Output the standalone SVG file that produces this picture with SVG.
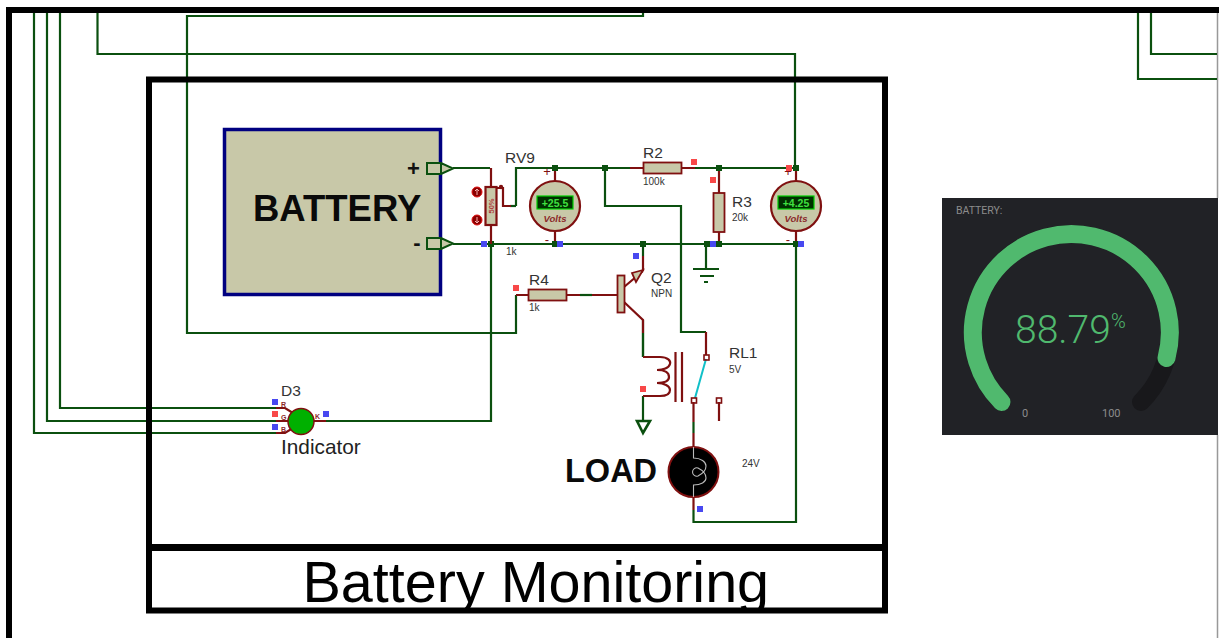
<svg xmlns="http://www.w3.org/2000/svg" width="1219" height="638" viewBox="0 0 1219 638">
<style>
text{font-family:"Liberation Sans",Arial,sans-serif}
.w{fill:none;stroke:#0b500f;stroke-width:2.2}
.r{fill:none;stroke:#7f1010;stroke-width:2.2}
.j{fill:#0b500f}
.b{fill:#4848f0}
.s{fill:#f84848}
.body{fill:#c8c8a8;stroke:#7f1010;stroke-width:2.2}
.l{fill:#333;font-size:15.5px}
.t{fill:#333;font-size:10px}
.disp{fill:#003000;stroke:#00d000;stroke-width:1.2}
.dt{fill:#40e040;font-size:10.5px;font-weight:bold;text-anchor:middle}
.vt{fill:#8b2a2a;font-size:9.500px;font-weight:bold;font-style:italic;text-anchor:middle}
.pm{fill:#7f1010;font-size:13px;text-anchor:middle}
.pin{fill:#8b2a2a;font-size:7px;font-weight:bold}
.term{fill:#c8c8a8;stroke:#0b500f;stroke-width:2}
.rt{fill:#c8c8a8;stroke:#7f1010;stroke-width:1.8}
.dash{fill:#8c8c8c;font-size:11px;font-family:Roboto,"Liberation Sans",sans-serif}
</style>
<defs><clipPath id="titleClip"><rect x="152" y="551" width="730" height="60"/></clipPath></defs>
<rect width="1219" height="638" fill="#fff"/>
<g id="frame">
<path d="M9 638V10H1219" fill="none" stroke="#000" stroke-width="6"/>
<path d="M1217.5 13V198M1217.5 435V638" fill="none" stroke="#999" stroke-width="1.5"/>
</g>
<g id="connectors">
<path class="w" d="M34 13V433H276M47 13V421H288M60 13V408H276"/>
<path class="w" d="M97.500 13V54H795V168"/>
<path class="w" d="M643 13V16H187V333H516V295"/>
<path class="w" d="M1138 13V79H1217M1151 13V54H1217"/>
<path class="w" d="M453 168H490M453 244H796M516 206V168H796"/>
<path class="w" d="M326 421H491V244"/>
<path class="w" d="M605 168V206H681V332H706"/>
<path class="w" d="M643 244V256M643 320V357M643 396V421M693.500 422V433M693.500 510V522H796V244"/>
<path class="w" d="M706 244V268"/>
<path class="w" d="M693 269H719M700 276H714M704 282H708" />
<path class="w" d="M643 433L637 421H650Z" style="stroke-width:2.6"/>
<path class="w" d="M510 206H516"/>
<rect class="j" x="552" y="165" width="6" height="6"/><rect class="j" x="602" y="165" width="6" height="6"/>
<rect class="j" x="716" y="165" width="6" height="6"/><rect class="j" x="793" y="165" width="6" height="6"/>
<rect class="j" x="488" y="241" width="6" height="6"/><rect class="j" x="552" y="241" width="6" height="6"/>
<rect class="j" x="640" y="241" width="6" height="6"/><rect class="j" x="704" y="241" width="6" height="6"/>
<rect class="j" x="716" y="241" width="6" height="6"/><rect class="j" x="793" y="241" width="6" height="6"/>
</g>
<g id="battery">
<rect x="224.500" y="129.500" width="216" height="165" fill="#c8c8a8" stroke="#000080" stroke-width="3.500"/>
<text x="253" y="221" font-size="36.500" font-weight="bold" fill="#0a0a0a">BATTERY</text>
<text x="413.500" y="176" font-size="22" font-weight="bold" text-anchor="middle" fill="#111">+</text>
<text x="417" y="250" font-size="22" font-weight="bold" text-anchor="middle" fill="#111">-</text>
<path class="term" d="M427 163H441L453 168.500L441 174H427Z M441 163V174"/>
<path class="term" d="M427 238H441L453 243.500L441 249H427Z M441 238V249"/>
</g>
<g id="rv9">
<path class="r" d="M491 168V187M491 225V244M496 188H503V206H511"/>
<rect class="body" x="485.500" y="187" width="11" height="38"/>
<circle cx="501" cy="187" r="2.200" fill="#7f1010"/>
<text transform="translate(494,206) rotate(-90)" font-size="7.500" text-anchor="middle" font-weight="bold" fill="#b04040">50%</text>
<circle cx="477" cy="192" r="5" fill="#8b0000" stroke="#e01010"/>
<circle cx="477" cy="220" r="5" fill="#8b0000" stroke="#e01010"/>
<path d="M477 189V195M475 191L477 189L479 191M477 217V223M475 221L477 223L479 221" fill="none" stroke="#f8b0b0" stroke-width="1"/>
<text class="l" x="505" y="163">RV9</text>
<text class="t" x="506" y="255">1k</text>
<rect class="b" x="481" y="241" width="6" height="6"/>
</g>
<g id="vm1">
<path class="r" d="M555 171V181M555 231V241"/>
<circle class="body" cx="555" cy="206" r="25"/>
<rect class="disp" x="537" y="196" width="36" height="13"/>
<text class="dt" x="555" y="206.500">+25.5</text>
<text class="vt" x="555" y="222">Volts</text>
<text class="pm" x="547" y="176">+</text>
<text class="pm" x="547" y="244">-</text>
<rect class="b" x="557" y="241" width="6" height="6"/>
</g>
<g id="r2">
<path class="r" d="M630 168H695"/>
<rect class="rt" x="643.500" y="162.500" width="38" height="11"/>
<text class="l" x="643" y="158">R2</text>
<text class="t" x="643" y="185">100k</text>
<rect class="s" x="691" y="159" width="6" height="6"/>
</g>
<g id="r3">
<path class="r" d="M719 171V232V241"/>
<rect class="rt" x="713.500" y="193" width="11" height="39"/>
<text class="l" x="732" y="207">R3</text>
<text class="t" x="732" y="221">20k</text>
<rect class="s" x="710" y="177" width="6" height="6"/>
<rect class="b" x="710" y="241" width="6" height="6"/>
</g>
<g id="vm2">
<path class="r" d="M796 171V181M796 231V241"/>
<circle class="body" cx="796" cy="206" r="25"/>
<rect class="disp" x="778" y="196" width="36" height="13"/>
<text class="dt" x="796" y="206.500">+4.25</text>
<text class="vt" x="796" y="222">Volts</text>
<text class="pm" x="788" y="176">+</text>
<text class="pm" x="788" y="244">-</text>
<rect class="s" x="786" y="165" width="6" height="6"/>
<rect class="b" x="798" y="241" width="6" height="6"/>
</g>
<g id="r4">
<path class="r" d="M516 295H617"/>
<path class="w" d="M580 295H592"/>
<rect class="rt" x="528.500" y="289.500" width="38" height="11"/>
<text class="l" x="529" y="285">R4</text>
<text class="t" x="529" y="311">1k</text>
<rect class="s" x="513" y="285" width="6" height="6"/>
</g>
<g id="q2">
<path class="r" d="M643 256V271M624 302L643 320V333M624 287L643 271"/>
<rect class="rt" x="617.500" y="275.500" width="7" height="37"/>
<path d="M643 270L632 273L636 282Z" fill="#c8c8a8" stroke="#7f1010" stroke-width="1.800"/>
<text class="l" x="651" y="283">Q2</text>
<text class="t" x="651" y="297">NPN</text>
<rect class="b" x="633" y="253" width="6" height="6"/>
</g>
<g id="rl1">
<path class="w" d="M643 333V357"/>
<path class="r" d="M643 357H660C668 357 671 361 670 364C669 368 663 370 657 370M657 370C664 370 669 372 669 377C669 381 664 383 657 383M657 383C664 383 670 386 670 390C670 394 666 396 660 396H643"/>
<path class="r" d="M675.500 352V402M682 352V402"/>
<path class="r" d="M706 332V355M693.500 402V422M719 402V421"/>
<path d="M706 359L695 398" stroke="#10c0c8" stroke-width="2"/>
<rect x="704" y="355" width="5" height="5" fill="none" stroke="#7f1010" stroke-width="1.600"/>
<rect x="691.500" y="398" width="5" height="5" fill="none" stroke="#7f1010" stroke-width="1.600"/>
<rect x="716.500" y="398" width="5" height="5" fill="none" stroke="#7f1010" stroke-width="1.600"/>
<rect class="s" x="640" y="386" width="6" height="6"/>
<text class="l" x="729" y="358">RL1</text>
<text class="t" x="729" y="373">5V</text>
</g>
<g id="load">
<path class="r" d="M693.500 433V447M693.500 497V510"/>
<circle cx="693.500" cy="472" r="25" fill="#000" stroke="#7f1010" stroke-width="2"/>
<path d="M693.500 447V458C701 458 706 462 706 466C706 471 702 474 698 476A4.200 4.200 0 1 1 698 468C702 470 706 473 706 478C706 482 701 485 693.500 485V497" fill="none" stroke="#bbb" stroke-width="1.100"/>
<text x="565" y="482" font-size="32.500" font-weight="bold" fill="#0a0a0a">LOAD</text>
<text class="t" x="742" y="467">24V</text>
<rect class="b" x="697" y="506" width="6" height="6"/>
</g>
<g id="d3">
<path class="r" d="M276 408H285L293 413M276 421H288M276 433H285L293 428M314 421H326"/>
<circle cx="301" cy="421.500" r="13" fill="#00b000" stroke="#7f1010" stroke-width="1.500"/>
<text class="pin" x="281" y="407">R</text>
<text class="pin" x="281" y="420">G</text>
<text class="pin" x="281" y="432">B</text>
<text class="pin" x="315" y="419">K</text>
<rect class="b" x="272" y="399" width="6" height="6"/>
<rect class="s" x="272" y="411" width="6" height="6"/>
<rect class="b" x="272" y="424" width="6" height="6"/>
<rect class="b" x="323" y="411" width="6" height="6"/>
<text x="281" y="396" font-size="15.500" fill="#333">D3</text>
<text x="281" y="454" font-size="20.800" fill="#222">Indicator</text>
</g>
<g id="title">
<text x="302.500" y="602" font-size="57.500" fill="#000" clip-path="url(#titleClip)">Battery Monitoring</text>
<rect x="149" y="79.500" width="736" height="531" fill="none" stroke="#000" stroke-width="6"/>
<path d="M149 547.500H885" stroke="#000" stroke-width="7"/>
</g>
<g id="gauge">
<rect x="942" y="198" width="276" height="237" fill="#212226"/>
<text class="dash" x="956" y="214" style="font-size:10.5px">BATTERY:</text>
<path d="M1001.500 402A98.500 98.500 0 1 1 1141 402" fill="none" stroke="#18181b" stroke-width="18" stroke-linecap="round"/>
<path d="M1001.500 402A98.500 98.500 0 1 1 1166.500 358" fill="none" stroke="#50b96e" stroke-width="18" stroke-linecap="round"/>
<text x="1015" y="343" font-size="39" fill="#50b96e" style="font-family:Roboto,'Liberation Sans',sans-serif;font-weight:300">88.79</text>
<text x="1111" y="328" font-size="20" fill="#50b96e" style="font-family:Roboto,'Liberation Sans',sans-serif;font-weight:300">%</text>
<text class="dash" x="1022" y="417">0</text>
<text class="dash" x="1102" y="417">100</text>
</g>
</svg>
